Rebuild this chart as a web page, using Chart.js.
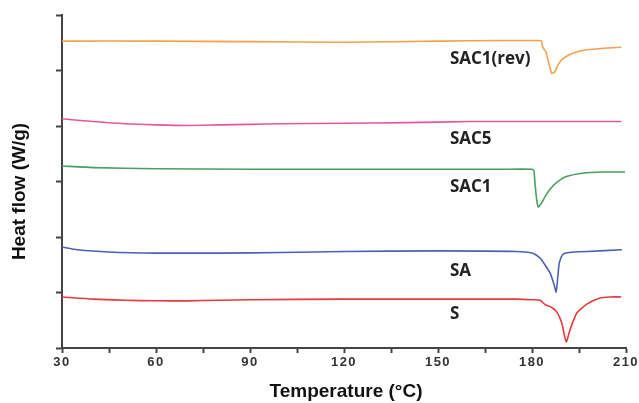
<!DOCTYPE html>
<html>
<head>
<meta charset="utf-8">
<script src="https://cdn.jsdelivr.net/npm/chart.js@4.4.1/dist/chart.umd.min.js"></script>
<style>
    html, body { margin: 0; padding: 0; background: #fff; }
    .chart-box { width: 639px; height: 403px; }
</style>
</head>
<body>
<div class="chart-box">
    <canvas id="myChart"></canvas>
</div>
<script>
    // 各曲線的溫度 (°C) 與熱流 (任意單位)
    const tempRev = [30, 60, 90, 120, 150, 170, 182, 183, 183.3, 183.8, 184.5, 185.5, 186.3, 187.2, 188.5, 190, 193, 197, 203, 208.5];
    const heatRev = [5.53, 5.53, 5.52, 5.51, 5.53, 5.54, 5.54, 5.53, 5.44, 5.39, 5.33, 5.10, 4.95, 4.97, 5.12, 5.22, 5.31, 5.37, 5.40, 5.42];

    const tempSAC5 = [30, 40, 50, 60, 70, 80, 90, 100, 120, 140, 160, 180, 200, 208.5];
    const heatSAC5 = [4.13, 4.08, 4.04, 4.02, 4.01, 4.02, 4.03, 4.04, 4.05, 4.06, 4.08, 4.08, 4.08, 4.08];

    const tempSAC1 = [30, 40, 60, 90, 120, 150, 170, 180, 180.6, 181, 181.5, 182, 183, 184.5, 186, 188, 191, 196, 203, 209.7];
    const heatSAC1 = [3.28, 3.25, 3.23, 3.22, 3.22, 3.22, 3.22, 3.22, 3.19, 2.94, 2.67, 2.54, 2.61, 2.76, 2.88, 2.99, 3.09, 3.15, 3.17, 3.17];

    const tempSA = [30, 35, 45, 60, 80, 100, 120, 150, 175, 180, 182.6, 184, 185.8, 187, 187.7, 188.3, 188.7, 189.9, 192, 197.6, 208.7];
    const heatSA = [1.82, 1.77, 1.73, 1.71, 1.71, 1.72, 1.74, 1.75, 1.74, 1.71, 1.62, 1.51, 1.35, 1.15, 1.01, 1.32, 1.53, 1.69, 1.72, 1.74, 1.77];

    const tempS = [30, 40, 50, 60, 70, 80, 90, 120, 150, 175, 180, 182.6, 184.2, 186.3, 187.9, 189.5, 190.9, 192.1, 194.3, 197.5, 201.7, 205, 208.5];
    const heatS = [0.92, 0.88, 0.86, 0.85, 0.85, 0.86, 0.87, 0.88, 0.88, 0.88, 0.87, 0.86, 0.78, 0.73, 0.65, 0.45, 0.11, 0.32, 0.63, 0.79, 0.90, 0.92, 0.92];

    const seriesNames = ['SAC1(rev)', 'SAC5', 'SAC1', 'SA', 'S'];
    const seriesColors = ['#f5a04c', '#e4579e', '#4a9e63', '#4d5fb8', '#e8393f'];
    // 標籤位置 (溫度, 熱流)
    const labelTemp = [153.8, 153.8, 153.8, 153.8, 153.8];
    const labelHeat = [5.21, 3.77, 2.90, 1.39, 0.61];

    const xTicks = [30, 60, 90, 120, 150, 180, 210];
    const xTitle = 'Temperature (°C)';
    const yTitle = 'Heat flow (W/g)';

    const allTemps = [tempRev, tempSAC5, tempSAC1, tempSA, tempS];
    const allHeats = [heatRev, heatSAC5, heatSAC1, heatSA, heatS];

    function toPoints(xs, ys) {
        return xs.map((x, i) => ({ x: x, y: ys[i] }));
    }

    const datasets = seriesNames.map((name, i) => ({
        label: name,
        data: toPoints(allTemps[i], allHeats[i]),
        borderColor: seriesColors[i],
        borderWidth: 1.6,
        pointRadius: 0,
        tension: 0.2,
        fill: false
    }));

    // 刻度文字加字距，其餘文字不加
    const spacing = {
        id: 'spacing',
        beforeDraw(chart) { chart.ctx.letterSpacing = '1.5px'; },
        beforeDatasetsDraw(chart) { chart.ctx.letterSpacing = '0px'; }
    };

    // 軸標題與曲線旁的文字標籤
    const textLayer = {
        id: 'textLayer',
        afterDatasetsDraw(chart) {
            const ctx = chart.ctx;
            const area = chart.chartArea;
            const xs = chart.scales.x, ys = chart.scales.y;
            ctx.save();
            ctx.letterSpacing = '0px';
            ctx.fillStyle = '#111';
            ctx.font = 'bold 19px Arial, "Liberation Sans", sans-serif';
            ctx.textAlign = 'center';
            ctx.textBaseline = 'alphabetic';
            ctx.fillText(xTitle, (area.left + area.right) / 2 + 2, area.bottom + 49);

            ctx.save();
            ctx.translate(area.left - 42, (area.top + area.bottom) / 2 + 10);
            ctx.rotate(-Math.PI / 2);
            ctx.textBaseline = 'middle';
            ctx.fillText(yTitle, 0, 0);
            ctx.restore();

            ctx.font = 'bold 17px "Open Sans", sans-serif';
            ctx.fillStyle = '#222';
            ctx.textAlign = 'left';
            ctx.textBaseline = 'middle';
            seriesNames.forEach((name, i) => {
                ctx.fillText(name, xs.getPixelForValue(labelTemp[i]), ys.getPixelForValue(labelHeat[i]));
            });
            ctx.restore();
        }
    };

    new Chart(document.getElementById('myChart'), {
        type: 'line',
        data: { datasets: datasets },
        options: {
            responsive: true,
            maintainAspectRatio: false,
            animation: false,
            layout: { padding: { top: 15, right: 13, left: 0, bottom: 0 } },
            plugins: {
                legend: { display: false },
                tooltip: { enabled: false }
            },
            scales: {
                x: {
                    type: 'linear',
                    min: 30,
                    max: 210,
                    afterBuildTicks(scale) {
                        const t = [];
                        for (let v = 30; v <= 210; v += 15) t.push({ value: v });
                        scale.ticks = t;
                    },
                    afterFit(scale) { scale.height = 55; },
                    ticks: {
                        autoSkip: false,
                        maxRotation: 0,
                        padding: 2,
                        color: '#333',
                        font: { family: 'Arial, "Liberation Sans", sans-serif', size: 13, weight: 'bold' },
                        callback: (v) => xTicks.includes(v) ? String(v) : ''
                    },
                    grid: {
                        drawOnChartArea: false,
                        drawTicks: true,
                        tickLength: 5,
                        tickColor: '#444',
                        tickWidth: 2
                    },
                    border: { display: true, color: '#444', width: 2 }
                },
                y: {
                    min: 0,
                    max: 6,
                    afterFit(scale) { scale.width = 62; },
                    ticks: {
                        stepSize: 1,
                        callback: () => ''
                    },
                    grid: {
                        drawOnChartArea: false,
                        drawTicks: true,
                        tickLength: 6,
                        tickColor: '#444',
                        tickWidth: 2
                    },
                    border: { display: true, color: '#444', width: 2 }
                }
            }
        },
        plugins: [spacing, textLayer]
    });
</script>
</body>
</html>
